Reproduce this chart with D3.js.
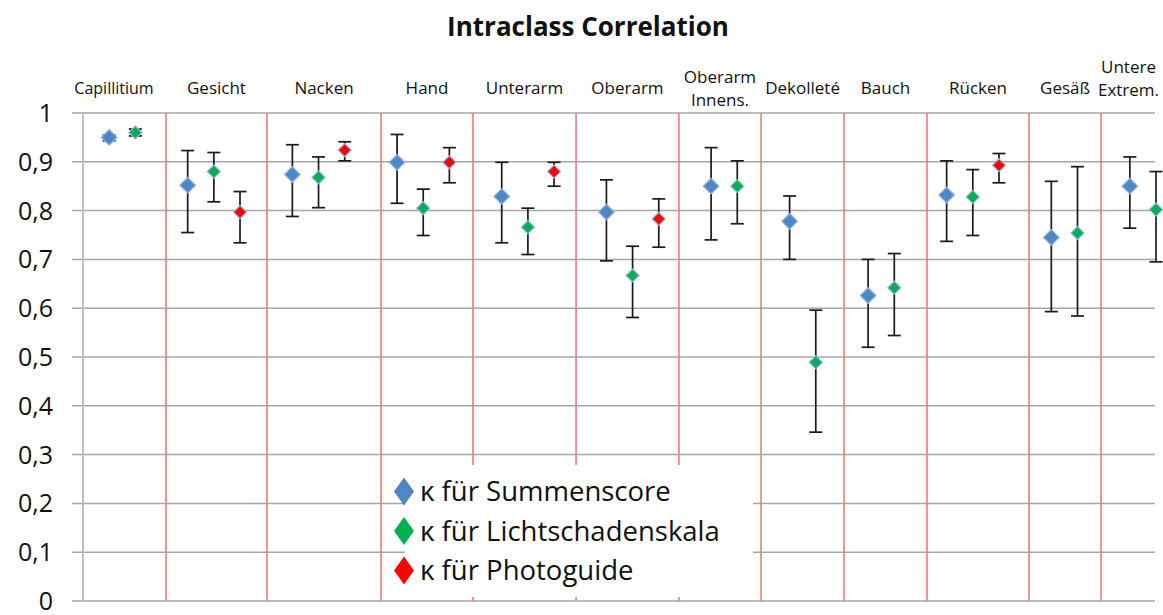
<!DOCTYPE html>
<meta charset="utf-8">
<style>
body{ margin:0; background:#fff; }
text{ font-family:"Open Sans", sans-serif; fill:#111; }
.grid line{ stroke:#a6a6a6; stroke-width:1.5px; }
.sep{ stroke:#ec7b7b; stroke-width:1.6px; }
.err{ stroke:#1a1a1a; stroke-width:1.7px; }
</style>
<body>
<script src="https://d3js.org/d3.v7.min.js"></script>
<script>

var regions = ["Capillitium","Gesicht","Nacken","Hand","Unterarm","Oberarm","Oberarm\nInnens.","Dekolleté","Bauch","Rücken","Gesäß","Untere\nExtrem."];

// kappa + CI per region, null = not measured
var summenscore    = [0.950,0.852,0.874,0.899,0.829,0.797,0.850,0.778,0.626,0.832,0.745,0.850];
var summenscoreLo  = [0.943,0.755,0.788,0.815,0.734,0.697,0.740,0.700,0.520,0.737,0.593,0.764];
var summenscoreHi  = [0.955,0.923,0.935,0.956,0.899,0.863,0.929,0.830,0.700,0.902,0.860,0.910];

var lichtschaden   = [0.960,0.880,0.868,0.805,0.766,0.667,0.850,0.489,0.642,0.828,0.754,0.802];
var lichtschadenLo = [0.953,0.818,0.806,0.749,0.710,0.581,0.773,0.346,0.544,0.749,0.584,0.695];
var lichtschadenHi = [0.967,0.919,0.910,0.844,0.805,0.727,0.902,0.596,0.712,0.884,0.890,0.880];

var photoguide     = [null,0.797,0.924,0.899,0.880,0.783,null,null,null,0.893,null,null];
var photoguideLo   = [null,0.734,0.902,0.857,0.850,0.725,null,null,null,0.857,null,null];
var photoguideHi   = [null,0.839,0.941,0.929,0.899,0.824,null,null,null,0.917,null,null];

// red divider lines, in point-slot units
var dividers = [2.17,6.03,10.39,13.90,17.84,21.77,24.91,28.08,31.25,35.15,37.90];

var yTicks = [0,0.1,0.2,0.3,0.4,0.5,0.6,0.7,0.8,0.9,1];

var series = [
  {name:"κ für Summenscore",      v:summenscore,  lo:summenscoreLo,  hi:summenscoreHi,  fill:"#4f86c6", r:7.8},
  {name:"κ für Lichtschadenskala",v:lichtschaden, lo:lichtschadenLo, hi:lichtschadenHi, fill:"#00b050", r:6.5},
  {name:"κ für Photoguide",       v:photoguide,   lo:photoguideLo,   hi:photoguideHi,   fill:"#ff0000", r:6.5}
];

// one slot per measured point, one empty slot between regions
var points = [], slot = 0;
regions.forEach(function(r, i){
  series.forEach(function(s){
    if (s.v[i] == null) return;
    points.push({slot:slot, v:s.v[i], lo:s.lo[i], hi:s.hi[i], s:s});
    slot++;
  });
  slot++;
});

var W = 1163, H = 615;
var svg = d3.select("body").append("svg").attr("width", W).attr("height", H);

var x = d3.scaleLinear().domain([-1, 40]).range([83, 1156]);
var y = d3.scaleLinear().domain([0, 1]).range([601, 113]);
var de = d3.formatLocale({decimal:",", thousands:".", grouping:[3], currency:["","€"]});

svg.append("text").attr("x", 588).attr("y", 36)
  .attr("text-anchor","middle").style("font-weight","bold").style("font-size","26px")
  .text("Intraclass Correlation");

// gridlines + y labels
var grid = svg.append("g").attr("class","grid");
grid.selectAll("line").data(yTicks).enter().append("line")
  .attr("x1", 72).attr("x2", 1155)
  .attr("y1", d=>y(d)).attr("y2", d=>y(d));
svg.append("line").attr("x1", x(-1)).attr("x2", x(-1)).attr("y1", y(1)).attr("y2", y(0))
  .style("stroke","#bfbfbf").style("stroke-width","2px");
svg.append("g").selectAll("text").data(yTicks).enter().append("text")
  .attr("x", 53).attr("y", d=>y(d)).attr("dy","0.36em")
  .attr("text-anchor","end").style("font-size","25px")
  .text(d=>de.format("~g")(d));

// region dividers and headers
svg.append("g").selectAll("line").data(dividers).enter().append("line")
  .attr("class","sep")
  .attr("x1", d=>x(d)).attr("x2", d=>x(d)).attr("y1", y(1)).attr("y2", y(0));

var bounds = [-1].concat(dividers, [40]);
var head = svg.append("g").selectAll("text").data(regions).enter().append("text")
  .attr("text-anchor","middle").style("font-size","17px")
  .attr("x", (d,i)=> i == 0 ? 114 : (x(bounds[i]) + x(bounds[i+1]))/2)
  .style("font-size", (d,i)=> i == 0 ? "16px" : "17px")
  .attr("y", (d,i)=> i == regions.length-1 ? 73 : (d.indexOf("\n") >= 0 ? 83 : 94));
head.each(function(d){
  var t = d3.select(this), xx = t.attr("x");
  d.split("\n").forEach(function(line, k){
    t.append("tspan").attr("x", xx).attr("dy", k ? 22.5 : 0).text(line);
  });
});

function diamond(rx, ry){
  return "M0," + (-ry) + "L" + rx + ",0L0," + ry + "L" + (-rx) + ",0Z";
}

// error bars
var eb = svg.append("g").selectAll("g").data(points).enter().append("g")
  .attr("transform", d=>"translate(" + x(d.slot) + ",0)");
eb.append("line").attr("class","err").attr("y1", d=>y(d.lo)).attr("y2", d=>y(d.hi));
eb.append("line").attr("class","err").attr("x1",-6.5).attr("x2",6.5).attr("y1", d=>y(d.lo)).attr("y2", d=>y(d.lo));
eb.append("line").attr("class","err").attr("x1",-6.5).attr("x2",6.5).attr("y1", d=>y(d.hi)).attr("y2", d=>y(d.hi));

// markers
svg.append("g").selectAll("path").data(points).enter().append("path")
  .attr("transform", d=>"translate(" + x(d.slot) + "," + y(d.v) + ")")
  .attr("d", d=>diamond(d.s.r, d.s.r))
  .style("fill", d=>d.s.fill)
  .style("stroke", "#8fb3e0").style("stroke-width", 1.2);

// legend
var lg = svg.append("g");
lg.append("rect").attr("x", 405).attr("y", 465).attr("width", 348).attr("height", 132).style("fill","#fff");
var li = lg.selectAll("g").data(series).enter().append("g")
  .attr("transform", (d,i)=>"translate(404," + (491.5 + i*39.5) + ")");
li.append("path").attr("d", diamond(10, 14)).style("fill", d=>d.fill);
li.append("text").attr("x", 16).attr("dy","0.36em").style("font-size","27.5px").text(d=>d.name);

</script>
</body>
